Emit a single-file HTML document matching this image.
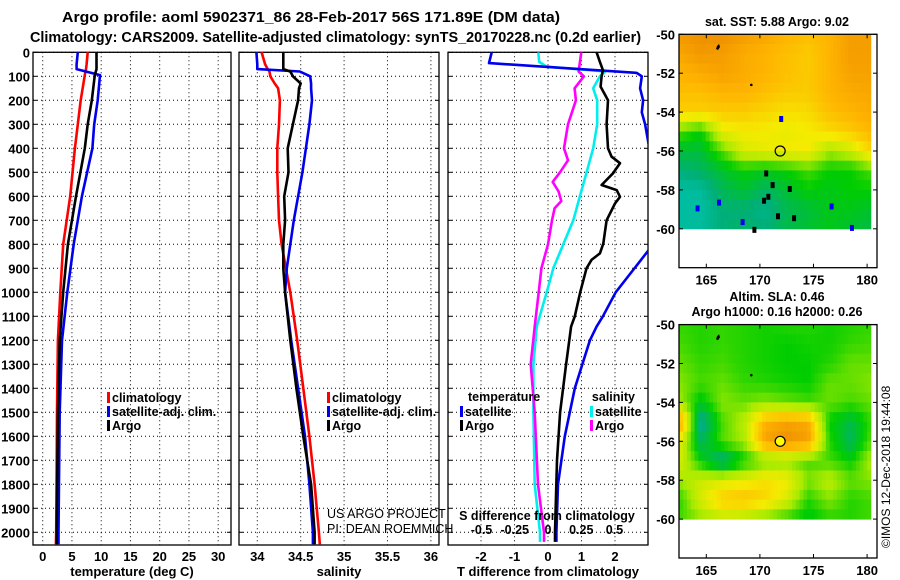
<!DOCTYPE html>
<html><head><meta charset="utf-8"><style>
body{margin:0;background:#fff;width:900px;height:580px;overflow:hidden}
svg{display:block;font-family:"Liberation Sans",Arial,sans-serif;font-weight:bold}
</style></head><body>
<svg id="chart" width="900" height="580" viewBox="0 0 900 580" xmlns="http://www.w3.org/2000/svg">
<text x="62" y="22" font-size="14.5" textLength="498" lengthAdjust="spacingAndGlyphs">Argo profile: aoml 5902371_86 28-Feb-2017 56S 171.89E (DM data)</text>
<text x="30" y="42" font-size="14.5" textLength="611" lengthAdjust="spacingAndGlyphs">Climatology: CARS2009. Satellite-adjusted climatology: synTS_20170228.nc (0.2d earlier)</text>
<g id="g"></g>
</svg>
<script>
// depth levels (m)
const depthsT = [0,50,70,95,200,300,400,600,800,1000,1200,1500,2000,2050];
const tempClim = [7.7,7.5,7.4,7.2,6.5,6.0,5.5,4.7,3.5,3.0,2.6,2.45,2.3,2.25];
const tempSat  = [6.0,5.8,5.8,9.8,9.4,8.8,8.5,6.7,5.3,4.2,3.3,2.9,2.7,2.7];
const tempArgo = [9.2,9.2,9.2,8.9,8.4,7.7,7.2,5.7,4.3,3.5,2.9,2.6,2.4,2.4];
const depthsS = [0,50,70,80,100,130,150,200,300,400,500,600,700,800,900,1000,1200,1400,1600,1800,2000,2050];
const salClim = [34.05,34.09,34.12,34.14,34.15,34.2,34.24,34.26,34.25,34.23,34.23,34.24,34.25,34.28,34.33,34.38,34.46,34.53,34.6,34.66,34.71,34.72];
const salSat  = [33.99,34.0,34.0,34.49,34.61,34.62,34.62,34.63,34.6,34.56,34.52,34.47,34.42,34.38,34.34,34.32,34.39,34.47,34.55,34.6,34.64,34.64];
const salArgo = [34.3,34.3,34.3,34.38,34.41,34.5,34.48,34.47,34.41,34.35,34.36,34.31,34.32,34.3,34.3,34.32,34.38,34.45,34.53,34.62,34.66,34.66];
const dDepthBlue = [0,45,86,100,150,200,250,300,380,500,825,1000,1100,1143,1200,1400,1600,1800,2000,2040];
const dTSat = [-1.68,-1.76,2.65,2.8,2.75,2.84,2.8,2.9,3.0,3.6,3.0,2.02,1.64,1.45,1.25,0.8,0.5,0.3,0.25,0.25];
const dDepthArgo = [0,40,74,100,143,200,300,400,435,462,504,553,574,602,630,700,797,838,865,900,1000,1100,1143,1300,1500,1700,2000,2040];
const dTArgo = [1.45,1.55,1.64,1.6,1.57,1.79,1.75,1.79,1.9,2.15,1.94,1.6,2.05,2.15,2.0,1.75,1.65,1.55,1.3,1.15,0.96,0.8,0.69,0.54,0.36,0.27,0.21,0.21];
const dDepthS = [0,40,60,80,100,150,200,300,400,500,600,700,800,900,1000,1143,1300,1500,1800,2000,2040];
const dSSat = [-0.073,-0.066,-0.01,0.43,0.39,0.34,0.37,0.37,0.34,0.29,0.24,0.19,0.115,0.04,-0.01,-0.085,-0.11,-0.11,-0.1,-0.06,-0.06];
const dDepthSA = [0,80,100,150,200,300,400,450,500,540,580,620,650,700,800,900,1000,1143,1300,1500,1800,2000,2040];
const dSArgo = [0.25,0.23,0.27,0.2,0.21,0.15,0.12,0.15,0.09,0.035,0.08,0.1,0.05,0.03,0.0,-0.05,-0.07,-0.1,-0.13,-0.1,-0.075,-0.03,-0.03];
const depthTicks = [0,100,200,300,400,500,600,700,800,900,1000,1100,1200,1300,1400,1500,1600,1700,1800,1900,2000];
const tTicks = [0,5,10,15,20,25,30];
const sTicks = [34,34.5,35,35.5,36];
const sTickLabels = ["34","34.5","35","35.5","36"];
const dTTicks = [-2,-1,0,1,2];
const dSTicks = [-0.5,-0.25,0,0.25,0.5];
const dSTickLabels = ["-0.5","-0.25","0","0.25","0.5"];
const latTicks = [-50,-52,-54,-56,-58,-60];
const lonTicks = [165,170,175,180];
// SST field, rows lat -50..-60 (1 deg), cols lon 162.5..180.5 (2 deg)
const sstGrid = [
[5.6,5.8,5.8,5.5,5.3,5,4.8,5,5.5,5.5],
[5.3,5.6,5.5,5.2,5,4.8,4.6,5,5.5,5.5],
[5,5.2,5.4,5.2,5,4.8,4.6,5,5.4,5.4],
[4.8,4.8,5,5,4.8,4.6,4.6,5,5.2,5.3],
[4.5,4.5,4.6,4.6,4.4,4.2,4.3,4.8,5,5.2],
[2.5,2,3.8,4,4,3.8,4,4.3,4.6,5],
[1.5,1.5,2.5,3.6,3.8,4,4,3,3.4,4.5],
[1,1.2,1.6,2,1.8,2,2.4,2,2,2.5],
[0.5,0.6,1.3,1.6,1.2,1.6,2,1.8,2,2],
[0.5,0.5,1,1,0.8,1.3,1.5,1.8,1.8,1.6],
[0.6,0.6,1,1.2,1,1.4,1.6,1.8,1.6,1.4]];
const slaGrid = [
[2.3,2.2,2.3,2.2,2.1,2.2,2.2,2.1,2.2,2.3],
[2.4,2.2,2.3,2.2,2.1,2.0,2.1,2.1,2.3,2.4],
[2.6,2.3,2.4,2.2,2.1,2.0,2.0,2.2,2.6,2.6],
[2.8,2.4,2.6,2.3,2.2,2.1,2.0,2.6,2.6,2.8],
[3.0,1.8,2.8,2.6,2.8,2.6,2.4,2.6,2.4,2.6],
[5.5,0.6,2.4,3.2,5.0,5.4,5.2,2.0,1.4,2.4],
[3.8,1.2,2.5,3.0,5.4,5.8,5.5,2.2,1.2,2.6],
[3.6,2.0,0.8,2.0,2.6,2.8,2.4,2.4,2.0,3.2],
[3.0,3.4,3.6,3.8,4.2,4.0,2.8,3.2,2.6,2.8],
[2.2,3.6,4.6,4.8,4.4,3.6,2.2,2.8,2.2,2.4],
[2.4,2.8,3.2,3.0,2.6,2.2,1.8,2.2,2.2,2.4]];
const sstSpeckLon = [170.2,170.6,171.0,170.4,172.6,171.5,166.0,168.2,164.0,173.0,176.5,178.4,169.3,171.8];
const sstSpeckLat = [-58.4,-58.2,-57.6,-57.0,-57.8,-59.2,-58.5,-59.5,-58.8,-59.3,-58.7,-59.8,-59.9,-54.2];
const sstSpeckCol = ["#000","#000","#000","#000","#000","#000","#0000ee","#0000ee","#0000ee","#000","#0000ee","#0000ee","#000","#0000ee"];

const NS="http://www.w3.org/2000/svg", G=document.getElementById('g');
function el(tag, attrs, parent){const e=document.createElementNS(NS,tag);for(const k in attrs)e.setAttribute(k,attrs[k]);(parent||G).appendChild(e);return e;}
function txt(x,y,s,size,anchor,name,parent){const t=el('text',{x:x,y:y,'font-size':size,'text-anchor':anchor||'start'},parent);t.textContent=s;


return t;}
const y0=52.3, ky=0.24, yBot=545;
const yD = d=>y0+ky*d;

function panel(name,x1,x2,xs,gridVals,labels,title){
  const g=el('g',{});
  
  
  gridVals.forEach((v,i)=>{const x=xs(v);
    el('line',{x1:x,x2:x,y1:y0,y2:yBot,stroke:'#000','stroke-dasharray':'1,3','stroke-width':1},g);
    if(labels) txt(x,561,labels[i],13,'middle','x-tick-label',g);});
  depthTicks.forEach(d=>{const y=yD(d);
    el('line',{x1:x1,x2:x2,y1:y,y2:y,stroke:'#000','stroke-dasharray':'1,3','stroke-width':1},g);
    el('line',{x1:x1,x2:x1+4,y1:y,y2:y,stroke:'#000'},g);el('line',{x1:x2-4,x2:x2,y1:y,y2:y,stroke:'#000'},g);});
  el('rect',{x:x1,y:y0,width:x2-x1,height:yBot-y0,fill:'none',stroke:'#000','stroke-width':1.3},g);
  if(title) txt((x1+x2)/2,576,title,13,'middle','x-axis-title',g);
  return g;
}
function line(g,xs,vals,deps,color,name,clip){
  const pts=vals.map((v,i)=>xs(v).toFixed(1)+','+yD(deps[i]).toFixed(1)).join(' ');
  const p=el('polyline',{points:pts,fill:'none',stroke:color,'stroke-width':2.6,'stroke-linejoin':'round'},g);
  if(clip)p.setAttribute('clip-path',clip);
  
  
}
// y labels
depthTicks.forEach(d=>txt(30,yD(d)+5,String(d),13,'end','y-tick-label'));
// panel 1
const xT=v=>42.7+5.85*v;
const p1=panel('temperature-panel',33,231,xT,tTicks,tTicks.map(String),'temperature (deg C)');
line(p1,xT,tempClim,depthsT,'#f00','temp-climatology-line');
line(p1,xT,tempSat,depthsT,'#0000ee','temp-satellite-line');
line(p1,xT,tempArgo,depthsT,'#000','temp-argo-line');
// panel 2
const xS=v=>257.3+86.8*(v-34);
const p2=panel('salinity-panel',239,439,xS,sTicks,sTickLabels,'salinity');
line(p2,xS,salClim,depthsS,'#f00','sal-climatology-line');
line(p2,xS,salSat,depthsS,'#0000ee','sal-satellite-line');
line(p2,xS,salArgo,depthsS,'#000','sal-argo-line');
// panel 3
const cp=el('clipPath',{id:'c3'});
el('rect',{x:448,y:y0,width:200,height:yBot-y0},cp);
const xdT=v=>548+33.5*v, xdS=v=>548+133*v;
const p3=panel('difference-panel',448,648,xdT,dTTicks,dTTicks.map(String),'T difference from climatology');
line(p3,xdS,dSSat,dDepthS,'#00eeee','sdiff-satellite-line','url(#c3)');
line(p3,xdS,dSArgo,dDepthSA,'#ff00ff','sdiff-argo-line','url(#c3)');
line(p3,xdT,dTSat,dDepthBlue,'#0000ee','tdiff-satellite-line','url(#c3)');
line(p3,xdT,dTArgo,dDepthArgo,'#000','tdiff-argo-line','url(#c3)');
txt(547,520,'S difference from climatology',12.5,'middle','s-axis-title',p3);
dSTicks.forEach((v,i)=>txt(xdS(v),534,dSTickLabels[i],12.5,'middle','s-tick-label',p3));
// legends
function leg(g,x,y,c,s,name){el('rect',{x:x,y:y-10,width:3,height:11,fill:c},g);txt(x+5,y,s,12.5,'start',name,g);}
const L1=el('g',{});
leg(L1,107,402,'#f00','climatology','legend-climatology');leg(L1,107,416,'#0000ee','satellite-adj. clim.','legend-satellite');leg(L1,107,430,'#000','Argo','legend-argo');
const L2=el('g',{});
leg(L2,327,402,'#f00','climatology','legend-climatology');leg(L2,327,416,'#0000ee','satellite-adj. clim.','legend-satellite');leg(L2,327,430,'#000','Argo','legend-argo');
const L3=el('g',{});
txt(468,401,'temperature',12.5,'start','legend-temperature-heading',L3);
leg(L3,460,416,'#0000ee','satellite','legend-t-satellite');leg(L3,460,430,'#000','Argo','legend-t-argo');
txt(635,401,'salinity',12.5,'end','legend-salinity-heading',L3);
leg(L3,590,416,'#00eeee','satellite','legend-s-satellite');leg(L3,590,430,'#ff00ff','Argo','legend-s-argo');
const cr2=el('g',{});
txt(327,518,'US ARGO PROJECT',12.5,'start','credit-line-1',cr2).setAttribute('font-weight','normal');
txt(327,533,'PI: DEAN ROEMMICH',12.5,'start','credit-line-2',cr2).setAttribute('font-weight','normal');

// maps
const stops=[[0,204,204],[0,175,120],[0,205,0],[170,235,0],[245,235,0],[255,180,0],[235,135,0]];
function cmap(v){v=Math.max(0,Math.min(6,v));const i=Math.min(5,Math.floor(v)),f=v-i;const a=stops[i],b=stops[i+1];
return 'rgb('+a.map((c,k)=>Math.round(c+(b[k]-c)*f)).join(',')+')';}
function sample(grid,lat,lon){const r=(-50-lat),c=(lon-162.5)/2;const r0=Math.min(9,Math.floor(r)),c0=Math.max(0,Math.min(8,Math.floor(c)));
const fr=r-r0,fc=Math.max(0,Math.min(1,c-c0));const g=grid;
return g[r0][c0]*(1-fr)*(1-fc)+g[r0][c0+1]*(1-fr)*fc+g[r0+1][c0]*fr*(1-fc)+g[r0+1][c0+1]*fr*fc;}
function map(name,top,grid,title1,title2,yt1,yt2,filled){
  const g=el('g',{});
  const lonX=v=>706.3+10.72*(v-165), latY=v=>top+19.45*(-50-v);
  const step=0.35;
  for(let lat=-50;lat>-60;lat-=0.5){for(let lon=162.5;lon<180;lon+=step){
    const v=sample(grid,lat-0.25,lon+step/2);
    el('rect',{x:lonX(lon).toFixed(2),y:latY(lat).toFixed(2),width:(10.72*step+0.4).toFixed(2),height:10.2,fill:cmap(v)},g);}}
  if(!filled){sstSpeckLon.forEach((lo,i)=>el('rect',{x:lonX(sstSpeckLon[i]),y:latY(sstSpeckLat[i]),width:4,height:6,fill:sstSpeckCol[i]},g));}
  el('path',{d:`M${lonX(166)} ${latY(-50.6)} l2 -2 l1 3 l-2 3 l-2 -1z`,fill:'#000'},g);
  el('circle',{cx:lonX(169.2),cy:latY(-52.6),r:1.3,fill:'#000'},g);
  el('circle',{cx:lonX(171.89),cy:latY(-56),r:5,fill:filled?'#ffff00':'none',stroke:'#000','stroke-width':1.2},g);
  const x1=679,x2=877,y2=latY(-62);
  el('rect',{x:x1,y:top,width:x2-x1,height:y2-top,fill:'none',stroke:'#000','stroke-width':1.3},g);
  latTicks.forEach(v=>{const y=latY(v);el('line',{x1:x1,x2:x1+4,y1:y,y2:y,stroke:'#000'},g);el('line',{x1:x2-4,x2:x2,y1:y,y2:y,stroke:'#000'},g);
    txt(675,y+5,String(v),13,'end','lat-tick-label',g);});
  lonTicks.forEach(v=>{const x=lonX(v);el('line',{x1:x,x2:x,y1:y2,y2:y2-4,stroke:'#000'},g);el('line',{x1:x,x2:x,y1:top,y2:top+4,stroke:'#000'},g);
    txt(x,y2+17,String(v),13,'middle','lon-tick-label',g);});
  txt(777,yt1,title1,12.5,'middle','map-title',g);
  if(title2)txt(777,yt2,title2,12.5,'middle','map-subtitle',g);
}
map('sst-map',34.3,sstGrid,'sat. SST: 5.88 Argo: 9.02',null,26,0,false);
map('sla-map',324.6,slaGrid,'Altim. SLA: 0.46','Argo h1000: 0.16 h2000: 0.26',301,316,true);
const ts=txt(0,0,'©IMOS 12-Dec-2018 19:44:08',12,'start','timestamp');
ts.setAttribute('font-weight','normal');ts.setAttribute('transform','translate(890,548) rotate(-90)');
</script>
</body></html>
